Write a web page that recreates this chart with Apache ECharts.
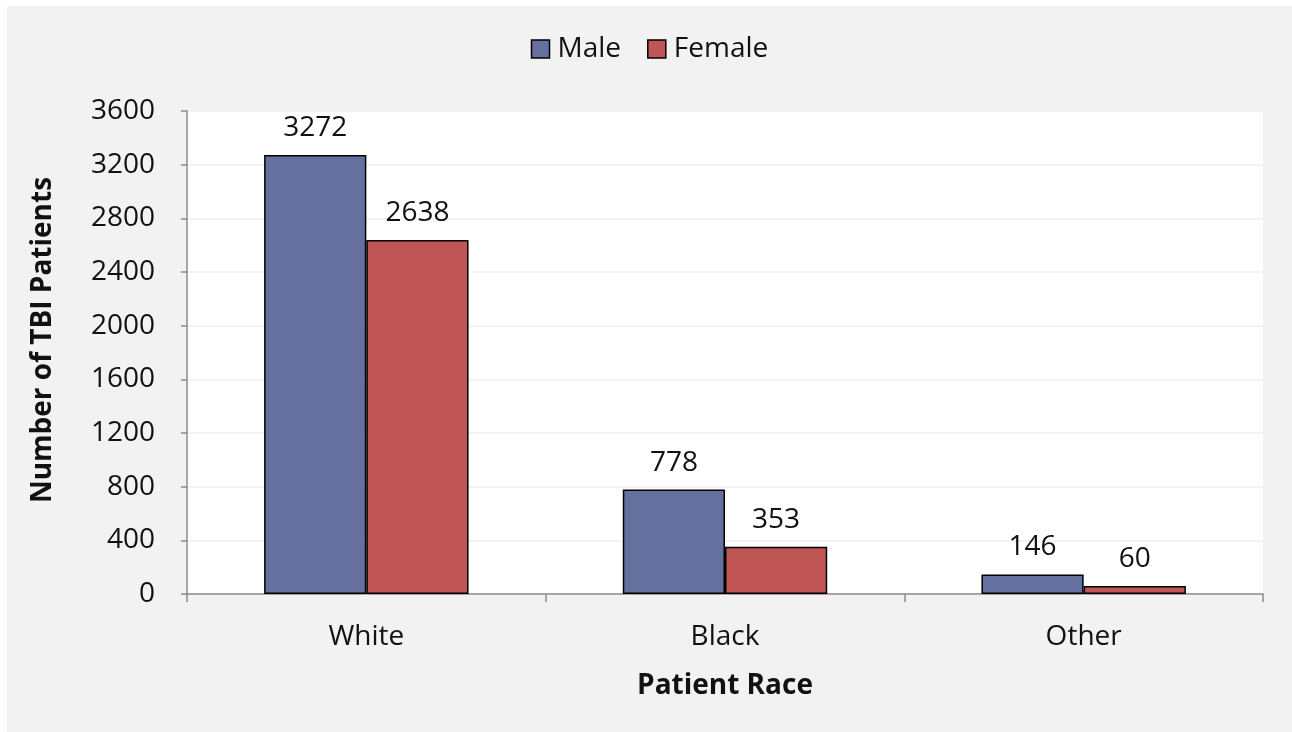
<!DOCTYPE html>
<html><head><meta charset="utf-8">
<script src="https://cdn.jsdelivr.net/npm/echarts@6/dist/echarts.min.js"></script>
<style>
html,body{margin:0;padding:0;background:#ffffff;width:1292px;height:732px;overflow:hidden;}
#c{position:absolute;left:7px;top:6px;width:1285px;height:726px;background:#f2f2f2;}
</style></head>
<body><div id="c"></div>
<script>
const categories = ['White', 'Black', 'Other'];
const maleValues = [3272, 778, 146];
const femaleValues = [2638, 353, 60];
const seriesNames = ['Male', 'Female'];
const yTicks = {min: 0, max: 3600, interval: 400};
const yTitle = 'Number of TBI Patients';
const xTitle = 'Patient Race';

const FONT = '"Open Sans", "Noto Sans", sans-serif';
const FS = 28;
const chart = echarts.init(document.getElementById('c'), null, {renderer: 'canvas'});
const labelCfg = {show: true, position: 'top', distance: 13, fontFamily: FONT, fontSize: FS, color: '#111'};
chart.setOption({
  backgroundColor: '#f2f2f2',
  animation: false,
  textStyle: {fontFamily: FONT},
  legend: {
    data: seriesNames,
    top: 24, left: 'center',
    icon: 'rect', itemWidth: 18, itemHeight: 18, itemGap: 26,
    textStyle: {fontFamily: FONT, fontSize: FS, color: '#111', padding: [0,0,0,3]},
    itemStyle: {borderColor: '#000', borderWidth: 1.5}
  },
  graphic: [{
    type: 'text', x: 36, y: 334, rotation: Math.PI / 2,
    style: {text: yTitle, fontFamily: FONT, fontSize: FS, fontWeight: 'bold', fill: '#111',
            textAlign: 'center', textVerticalAlign: 'middle'}
  }],
  grid: {left: 180, right: 29, top: 105, bottom: 138, show: true, backgroundColor: '#ffffff', borderWidth: 0},
  xAxis: {
    type: 'category', data: categories,
    name: xTitle, nameLocation: 'middle', nameGap: 78,
    nameTextStyle: {fontFamily: FONT, fontSize: FS, fontWeight: 'bold', color: '#111'},
    axisLine: {show: true, lineStyle: {color: '#8c8c8c', width: 1.5}},
    axisTick: {show: true, length: 8, lineStyle: {color: '#8c8c8c', width: 1.5}},
    axisLabel: {fontFamily: FONT, fontSize: FS, color: '#111', margin: 29},
    splitLine: {show: false}
  },
  yAxis: {
    type: 'value', min: yTicks.min, max: yTicks.max, interval: yTicks.interval,
    axisLine: {show: true, lineStyle: {color: '#8c8c8c', width: 1.5}},
    axisTick: {show: true, length: 6, lineStyle: {color: '#8c8c8c', width: 1.5}},
    axisLabel: {fontFamily: FONT, fontSize: FS, color: '#111', margin: 32, formatter: v => String(v)},
    splitLine: {show: true, lineStyle: {color: '#efefef', width: 1.5}}
  },
  series: [
    {name: seriesNames[0], type: 'bar', data: maleValues, barGap: '0%', barCategoryGap: '43%',
     itemStyle: {color: '#65709f', borderColor: '#000', borderWidth: 1.5}, label: labelCfg},
    {name: seriesNames[1], type: 'bar', data: femaleValues, barGap: '0%', barCategoryGap: '43%',
     itemStyle: {color: '#c05555', borderColor: '#000', borderWidth: 1.5}, label: labelCfg}
  ]
});
</script></body></html>
